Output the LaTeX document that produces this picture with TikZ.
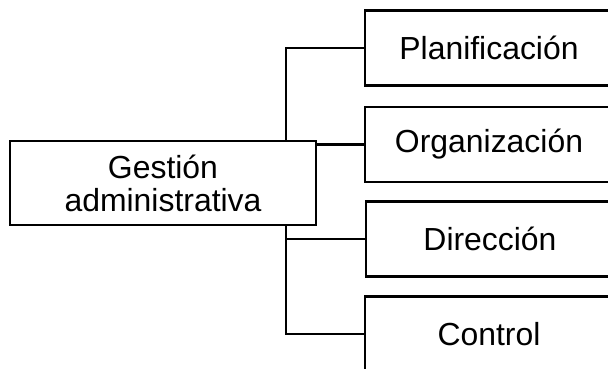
\documentclass[tikz,border=0pt]{standalone}
\usepackage{fontspec}
\setmainfont{Liberation Sans}
\usepackage{tikz}
\usetikzlibrary{positioning, calc}
\tikzset{
  box/.style={rectangle, draw=black, fill=white, line width=0.065cm,
    minimum width=248*0.025cm, minimum height=75*0.025cm,
    inner sep=0pt, align=center, font=\fontsize{22.7}{23.5}\selectfont},
  mainbox/.style={box, minimum width=306*0.025cm, minimum height=84*0.025cm},
  line/.style={line width=0.06cm, color=black}
}
\begin{document}
\begin{tikzpicture}[x=0.025cm, y=-0.025cm]
  \useasboundingbox (0,0) rectangle (608,369);
  \clip (0,0) rectangle (608,369);

  % Nodes
  \node[mainbox] (gest) at (163,183) {Gestión\\administrativa};
  \node[box] (plan) at (489,48) {Planificación};
  \node[box] (org) at (489,144.5) {Organización};
  \node[box] (dir) at (490,239) {Dirección};
  \node[box] (ctrl) at (489,334) {Control};

  % Trunk
  \coordinate (trunk) at (286,0);
  \draw[line] (plan.west) -- (plan.west -| trunk) -- (gest.north -| trunk);
  \draw[line] (gest.south -| trunk) -- (ctrl.west -| trunk) -- (ctrl.west);
  \draw[line] (dir.west) -- (dir.west -| trunk);
  \draw[line] (org.west) -- (org.west -| gest.east);
\end{tikzpicture}
\end{document}
